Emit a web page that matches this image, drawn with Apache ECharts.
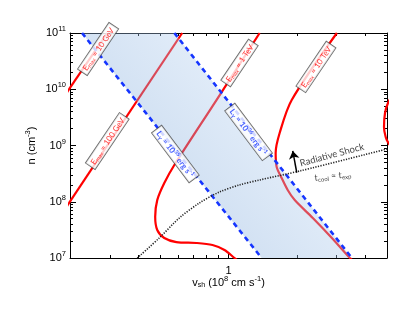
<!DOCTYPE html>
<html>
<head>
<meta charset="utf-8">
<script src="https://cdn.jsdelivr.net/npm/echarts@6/dist/echarts.min.js"></script>
<style>
html,body{margin:0;padding:0;background:#fff}
#chart{width:415px;height:321px}
</style>
</head>
<body>
<div id="chart"></div>
<script>
// v_sh in 10^8 cm/s, n in cm^-3
var xRange = [0.2, 5];
var yRange = [1e7, 1e11];
var xMajorTicks = [1];
var xMinorTicks = [0.2, 0.3, 0.4, 0.5, 0.6, 0.7, 0.8, 0.9, 2, 3, 4, 5];
var yMajorTicks = [1e7, 1e8, 1e9, 1e10, 1e11];
var yMinorTicks = [2e7, 3e7, 4e7, 5e7, 6e7, 7e7, 8e7, 9e7,
                   2e8, 3e8, 4e8, 5e8, 6e8, 7e8, 8e8, 9e8,
                   2e9, 3e9, 4e9, 5e9, 6e9, 7e9, 8e9, 9e9,
                   2e10, 3e10, 4e10, 5e10, 6e10, 7e10, 8e10, 9e10];

// E_max curves
var eMax10GeV = [[0.19, 7.8e9], [0.292, 1.0e11]];
var eMax100GeV = [[0.19, 7.4e7], [0.625, 1.0e11]];
var eMax1TeV = [[1.372, 1e11], [0.885, 6.4e9], [0.577, 4.5e8], [0.521, 2.15e8], [0.485, 1.07e8],
                [0.475, 5.4e7], [0.485, 3.15e7], [0.521, 2.27e7], [0.589, 1.92e7], [0.722, 1.85e7],
                [0.850, 1.70e7], [0.960, 1.39e7], [1.063, 1.0e7], [1.12, 0.85e7]];
var eMax10TeV = [[3.006, 1e11], [1.90, 6.44e9], [1.681, 1.67e9], [1.614, 7.36e8], [1.631, 4.15e8],
                 [1.716, 2.64e8], [1.824, 1.62e8], [1.959, 1.07e8], [2.354, 5.14e7], [2.857, 2.27e7],
                 [3.43, 1e7], [3.6, 0.85e7]];
var eMax100TeV = [[5.3, 8.0e9], [5.05, 5.7e9], [4.90, 3.78e9], [4.85, 2.13e9], [4.95, 1.36e9],
                  [5.05, 1.15e9], [5.3, 8.5e8]];

// L_gamma lines and band
var lGamma35 = [[0.226, 1e11], [1.40, 1e7]];
var lGamma36 = [[0.577, 1e11], [3.50, 1e7]];
var bandCorners = [[0.226, 1e11], [0.577, 1e11], [3.50, 1e7], [1.40, 1e7]];

// t_cool = t_exp
var tCoolExp = [[0.396, 1e7], [0.495, 2.27e7], [0.607, 5.14e7], [0.744, 9.5e7], [0.912, 1.49e8],
                [1.118, 1.99e8], [1.372, 2.44e8], [2.06, 3.52e8], [5.0, 8.67e8]];
var shockArrow = [[2.0, 3.3e8], [1.92, 8.0e8]];

// annotation texts and anchors
var eLabels = ['10 GeV', '100 GeV', '1 TeV', '10 TeV'];
var eLabelAt = [[0.266, 5.2e10], [0.292, 1.2e9], [1.118, 2.93e10], [2.43, 2.49e10]];
var lLabels = ['35', '36'];
var lLabelAt = [[0.583, 7.06e8], [1.226, 1.74e9]];
var shockLabelAt = [2.857, 6.78e8];
var coolLabelAt = [2.885, 2.87e8];

var RED = '#ff0000', BLUE = '#1535ff';
var sans = 'Liberation Sans';
var note = 'Lato';

function xAx(pos, ticks, len, withLine, labels) {
  return {
    type: 'log', position: pos, min: xRange[0], max: xRange[1],
    name: labels ? 'v{sub|sh} (10{sup|8} cm s{sup|-1})' : '',
    nameLocation: 'middle', nameGap: 17, nameMoveOverlap: false,
    nameTextStyle: {fontFamily: sans, fontSize: 11, color: '#000',
      rich: {sub: {fontSize: 7, fontFamily: sans, padding: [5, 0, 0, 0]},
             sup: {fontSize: 7.5, fontFamily: sans, padding: [0, 0, 8, 0]}}},
    axisLine: {show: withLine, lineStyle: {color: '#000', width: 1}},
    axisTick: {show: true, inside: true, length: len, customValues: ticks, lineStyle: {color: '#000'}},
    axisLabel: {show: !!labels, customValues: labels ? ticks : undefined, margin: 7,
      fontFamily: sans, fontSize: 11, color: '#000', formatter: function (v) { return String(v); }},
    splitLine: {show: false}, minorTick: {show: false}
  };
}
function yAx(pos, ticks, len, withLine, labels) {
  return {
    type: 'log', position: pos, min: yRange[0], max: yRange[1],
    name: labels ? 'n (cm{sup|-3})' : '',
    nameLocation: 'middle', nameGap: 30, nameMoveOverlap: false,
    nameTextStyle: {fontFamily: sans, fontSize: 11, color: '#000',
      rich: {sup: {fontSize: 7.5, fontFamily: sans, padding: [0, 0, 8, 0]}}},
    axisLine: {show: withLine, lineStyle: {color: '#000', width: 1}},
    axisTick: {show: true, inside: true, length: len, customValues: ticks, lineStyle: {color: '#000'}},
    axisLabel: {show: !!labels, customValues: labels ? ticks : undefined, margin: 4,
      fontFamily: sans, fontSize: 11, color: '#000',
      rich: {sup: {fontSize: 7.5, fontFamily: sans, padding: [0, 0, 8, 0]}},
      formatter: function (v) { return '10{sup|' + Math.round(Math.log10(v)) + '}'; }},
    splitLine: {show: false}, minorTick: {show: false}
  };
}

function redLine(data, smooth) {
  return {type: 'line', data: data, showSymbol: false, smooth: smooth || false, silent: true,
    lineStyle: {color: RED, width: 2.2}, z: 2};
}
function blueLine(data) {
  return {type: 'line', data: data, showSymbol: false, silent: true, z: 4,
    lineStyle: {color: BLUE, width: 2.6, type: [5, 4]}};
}

var eRich = {
  e: {color: RED, fontSize: 8, fontFamily: note},
  s: {color: RED, fontSize: 5.5, fontFamily: note, padding: [4, 0, 0, 0]}
};
var lRich = {
  e: {color: BLUE, fontSize: 8, fontFamily: note, fontWeight: 'bold'},
  s: {color: BLUE, fontSize: 6, fontFamily: note, fontWeight: 'bold', padding: [4, 0, 0, 0]},
  p: {color: BLUE, fontSize: 5.5, fontFamily: note, fontWeight: 'bold', padding: [0, 0, 5, 0]}
};
var boxLabel = {show: true, position: 'inside', backgroundColor: '#fff', borderColor: '#444',
  borderWidth: 0.8, padding: [1, 3, 0, 3]};

var labelData = [];
eLabels.forEach(function (t, i) {
  labelData.push({value: eLabelAt[i], label: Object.assign({}, boxLabel, {
    rotate: 56, rich: eRich, formatter: '{e|E}{s|max}{e| = ' + t + '}'})});
});
lLabels.forEach(function (t, i) {
  labelData.push({value: lLabelAt[i], label: Object.assign({}, boxLabel, {
    rotate: -53, rich: lRich, formatter: '{e|L}{s|γ}{e| = 10}{p|' + t + '}{e| erg s}{p|-1}'})});
});
labelData.push({value: shockLabelAt, label: {show: true, position: 'inside', rotate: 15,
  formatter: 'Radiative Shock', color: '#111', fontSize: 9.5, fontFamily: note}});
labelData.push({value: coolLabelAt, label: {show: true, position: 'inside', rotate: 6,
  formatter: '{e|t}{s|cool}{e| ≈ t}{s|exp}', rich: {
    e: {color: '#111', fontSize: 9, fontFamily: note},
    s: {color: '#111', fontSize: 6, fontFamily: note, padding: [5, 0, 0, 0]}}}});

var chart = echarts.init(document.getElementById('chart'), null, {renderer: 'canvas'});
chart.setOption({
  animation: false,
  backgroundColor: '#fff',
  grid: {left: 70, right: 28, top: 33, bottom: 63},
  xAxis: [
    xAx('bottom', xMajorTicks, 5, true, true),
    xAx('bottom', xMinorTicks, 3, false, false),
    xAx('top', xMajorTicks, 5, true, false),
    xAx('top', xMinorTicks, 3, false, false)
  ],
  yAxis: [
    yAx('left', yMajorTicks, 6, true, true),
    yAx('left', yMinorTicks, 3, false, false),
    yAx('right', yMajorTicks, 6, true, false),
    yAx('right', yMinorTicks, 3, false, false)
  ],
  series: [
    redLine(eMax10GeV),
    redLine(eMax100GeV),
    redLine(eMax1TeV, 0.3),
    redLine(eMax10TeV, 0.3),
    redLine(eMax100TeV, 0.4),
    {
      type: 'custom', silent: true, z: 3, data: [0],
      renderItem: function (params, api) {
        var pts = bandCorners.map(function (p) { return api.coord(p); });
        return {type: 'polygon', shape: {points: pts}, style: {
          fill: new echarts.graphic.LinearGradient(0, 1, 1, 0, [
            {offset: 0.3, color: 'rgba(125,168,218,0.38)'},
            {offset: 0.75, color: 'rgba(195,218,245,0.38)'}
          ])}};
      }
    },
    blueLine(lGamma35),
    blueLine(lGamma36),
    {type: 'line', data: tCoolExp, showSymbol: false, smooth: 0.3, silent: true, z: 4,
      lineStyle: {color: '#222', width: 1.6, type: [1.2, 1.4]}},
    {type: 'line', data: [], silent: true, z: 5,
      markLine: {silent: true, symbol: ['none', 'arrow'], symbolSize: 8, label: {show: false},
        lineStyle: {color: '#000', width: 1.5, type: 'solid'},
        data: [[{coord: shockArrow[0]}, {coord: shockArrow[1]}]]}},
    {type: 'scatter', data: labelData, symbolSize: 0, silent: true, z: 6}
  ]
});
</script>
</body>
</html>
